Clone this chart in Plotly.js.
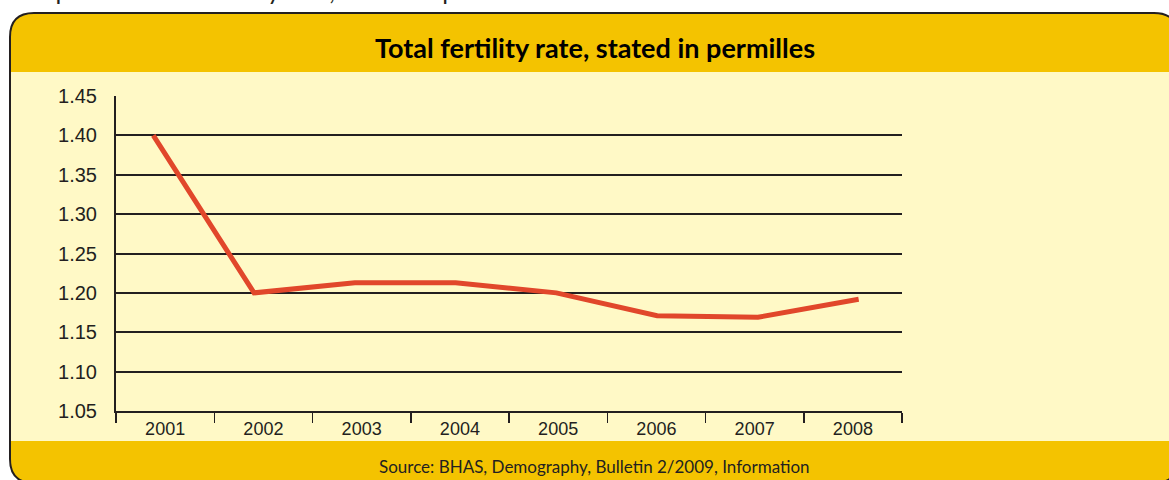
<!DOCTYPE html>
<html>
<head>
<meta charset="utf-8">
<script src="https://cdn.plot.ly/plotly-3.0.1.min.js"></script>
<style>
  html, body { margin: 0; padding: 0; background: #ffffff; }
  #chart { width: 1169px; height: 480px; }
</style>
</head>
<body>
<div id="chart"></div>
<script>
// Total fertility rate by year
const years = [2001, 2002, 2003, 2004, 2005, 2006, 2007, 2008];
const yearLabels = ['2001', '2002', '2003', '2004', '2005', '2006', '2007', '2008'];
const fertilityRate = [1.40, 1.20, 1.213, 1.213, 1.20, 1.171, 1.169, 1.192];
const yTickValues = [1.05, 1.10, 1.15, 1.20, 1.25, 1.30, 1.35, 1.40, 1.45];
const yTickLabels = ['1.05', '1.10', '1.15', '1.20', '1.25', '1.30', '1.35', '1.40', '1.45'];

const chartTitle = 'Total fertility rate, stated in permilles';
const captionLabel = 'Graph 13:';
const sourceText = 'Source: BHAS, Demography, Bulletin 2/2009, Information';

// Page geometry (pixels)
const FIG_W = 1169, FIG_H = 480;
const PL = 116, PR = 902, PT = 96, PB = 411;
const PW = PR - PL, PH = PB - PT;

// pixel -> paper coordinate helpers for decorative shapes and text
const X = px => (px - PL) / PW;
const Y = py => (PB - py) / PH;

function roundedRect(x0, y0, x1, y1, r) {
  const p = (a, b) => X(a).toFixed(5) + ',' + Y(b).toFixed(5);
  return 'M' + p(x0 + r, y0) +
    ' L' + p(x1 - r, y0) +
    ' Q' + p(x1, y0) + ' ' + p(x1, y0 + r) +
    ' L' + p(x1, y1 - r) +
    ' Q' + p(x1, y1) + ' ' + p(x1 - r, y1) +
    ' L' + p(x0 + r, y1) +
    ' Q' + p(x0, y1) + ' ' + p(x0, y1 - r) +
    ' L' + p(x0, y0 + r) +
    ' Q' + p(x0, y0) + ' ' + p(x0 + r, y0) + ' Z';
}

const GOLD = '#F4C300';
const CREAM = '#FFF9C6';
const INK = '#231F20';
const RED = '#E1472B';
const TICK_FONT = 'Liberation Sans, Arial, Helvetica, sans-serif';
const TEXT_FONT = 'Lato, Open Sans, sans-serif';

// line axis: first and last year sit slightly inside the category band
const lineRange = [2000.63, 2008.43];

const traces = [
  {
    // registers the year categories on the labelled axis
    x: yearLabels,
    y: fertilityRate,
    xaxis: 'x',
    yaxis: 'y',
    type: 'scatter',
    mode: 'lines',
    opacity: 0,
    line: { width: 0 },
    hoverinfo: 'skip',
    showlegend: false
  },
  {
    x: years,
    y: fertilityRate,
    xaxis: 'x2',
    yaxis: 'y',
    type: 'scatter',
    mode: 'lines',
    line: { color: RED, width: 5 },
    showlegend: false
  }
];

const layout = {
  width: FIG_W,
  height: FIG_H,
  margin: { l: PL, r: FIG_W - PR, t: PT, b: FIG_H - PB, pad: 0 },
  paper_bgcolor: '#ffffff',
  plot_bgcolor: 'rgba(0,0,0,0)',
  showlegend: false,
  xaxis: {
    type: 'category',
    range: [-0.5, 7.5],
    fixedrange: true,
    showgrid: false,
    zeroline: false,
    showline: true,
    linecolor: INK,
    linewidth: 2,
    ticks: 'outside',
    tickson: 'boundaries',
    ticklen: 10,
    tickwidth: 1.5,
    tickcolor: INK,
    ticklabelstandoff: 0,
    tickfont: { family: TICK_FONT, size: 18, color: INK }
  },
  xaxis2: {
    overlaying: 'x',
    range: lineRange,
    visible: false,
    fixedrange: true
  },
  yaxis: {
    range: [1.05, 1.45],
    fixedrange: true,
    tickmode: 'array',
    tickvals: yTickValues,
    ticktext: yTickLabels,
    showgrid: true,
    gridcolor: INK,
    gridwidth: 2,
    zeroline: false,
    showline: true,
    linecolor: INK,
    linewidth: 2,
    ticks: '',
    ticklabelstandoff: 13,
    tickfont: { family: TICK_FONT, size: 20, color: INK }
  },
  shapes: [
    {
      type: 'path', xref: 'paper', yref: 'paper', layer: 'below',
      path: roundedRect(10, 13, 1178, 483, 24),
      fillcolor: GOLD,
      line: { color: INK, width: 2 }
    },
    {
      type: 'rect', xref: 'paper', yref: 'paper', layer: 'below',
      x0: X(11), x1: X(1180), y0: Y(441), y1: Y(72),
      fillcolor: CREAM,
      line: { width: 0 }
    }
  ],
  annotations: [
    // caption line above the frame, partly above the page edge
    {
      text: captionLabel,
      xref: 'paper', yref: 'paper',
      x: X(14), y: Y(7),
      xanchor: 'left', yanchor: 'bottom',
      showarrow: false,
      font: { family: TEXT_FONT, size: 25, color: INK }
    },
    {
      text: chartTitle,
      xref: 'paper', yref: 'paper',
      x: X(139), y: Y(7),
      xanchor: 'left', yanchor: 'bottom',
      showarrow: false,
      font: { family: TEXT_FONT, size: 25, color: INK }
    },
    {
      text: '<b>' + chartTitle + '</b>',
      xref: 'paper', yref: 'paper',
      x: X(595), y: Y(47),
      xanchor: 'center', yanchor: 'middle',
      showarrow: false,
      font: { family: TEXT_FONT, size: 27, color: '#000000' }
    },
    {
      text: sourceText,
      xref: 'paper', yref: 'paper',
      x: X(594), y: Y(466),
      xanchor: 'center', yanchor: 'middle',
      showarrow: false,
      font: { family: TEXT_FONT, size: 17, color: INK }
    }
  ]
};

Plotly.newPlot('chart', traces, layout, { displayModeBar: false, staticPlot: true });
</script>
</body>
</html>
